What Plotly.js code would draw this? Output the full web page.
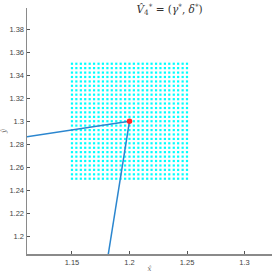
<!DOCTYPE html>
<html>
<head>
<meta charset="utf-8">
<script src="https://cdn.plot.ly/plotly-3.0.1.min.js"></script>
<style>html,body{margin:0;padding:0;background:#fff;}#chart{width:272px;height:273px;}</style>
</head>
<body>
<div id="chart"></div>
<script>
// grid values along x and along y
const gridX = [1.1500,1.1538,1.1577,1.1615,1.1654,1.1692,1.1731,1.1769,1.1808,1.1846,1.1885,1.1923,1.1962,1.2000,1.2038,1.2077,1.2115,1.2154,1.2192,1.2231,1.2269,1.2308,1.2346,1.2385,1.2423,1.2462,1.2500];
const gridY = [1.2500,1.2538,1.2577,1.2615,1.2654,1.2692,1.2731,1.2769,1.2808,1.2846,1.2885,1.2923,1.2962,1.3000,1.3038,1.3077,1.3115,1.3154,1.3192,1.3231,1.3269,1.3308,1.3346,1.3385,1.3423,1.3462,1.3500];
// line 1 (from left)
const line1X = [1.0, 1.2];
const line1Y = [1.2699, 1.3];
// line 2 (from below)
const line2X = [1.1522, 1.2];
const line2Y = [1.0, 1.3];
// optimum point
const ptX = [1.2];
const ptY = [1.3];
// ticks
const xTickVals = [1.15, 1.2, 1.25, 1.3];
const xTickText = ['1.15', '1.2', '1.25', '1.3'];
const yTickVals = [1.2, 1.22, 1.24, 1.26, 1.28, 1.3, 1.32, 1.34, 1.36, 1.38];
const yTickText = ['1.2', '1.22', '1.24', '1.26', '1.28', '1.3', '1.32', '1.34', '1.36', '1.38'];

const gx = [], gy = [];
for (const yv of gridY) for (const xv of gridX) { gx.push(xv); gy.push(yv); }

const data = [
  {x: gx, y: gy, type: 'scatter', mode: 'markers', marker: {color: '#00ffff', size: 2.2, symbol: 'square'}, hoverinfo: 'skip'},
  {x: line1X, y: line1Y, type: 'scatter', mode: 'lines', line: {color: '#2b86cf', width: 1.5}},
  {x: line2X, y: line2Y, type: 'scatter', mode: 'lines', line: {color: '#2b86cf', width: 1.5}},
  {x: ptX, y: ptY, type: 'scatter', mode: 'markers', marker: {color: '#ff2a2a', size: 5.5}}
];

const axisFont = {family: 'Liberation Sans, Arial, sans-serif', size: 7.5, color: '#444'};
const layout = {
  width: 272, height: 273,
  margin: {l: 27, r: 0, t: 8, b: 19, pad: 0},
  showlegend: false,
  paper_bgcolor: '#fff', plot_bgcolor: '#fff',
  title: {
    text: '<i>V̂</i><sub>4</sub><sup>*</sup> = (<i>γ</i><sup>*</sup>, <i>δ</i><sup>*</sup>)',
    font: {family: 'DejaVu Serif, Liberation Serif, serif', size: 10.5, color: '#333'},
    x: 0.582, xref: 'paper', xanchor: 'center',
    y: 0.965, yref: 'container', yanchor: 'middle'
  },
  xaxis: {
    range: [1.1109, 1.3239], showgrid: false, zeroline: false,
    showline: true, linecolor: '#8a8a8a', linewidth: 1.5, mirror: false,
    ticks: 'inside', ticklen: 3, tickwidth: 1, tickcolor: '#555',
    tickvals: xTickVals, ticktext: xTickText, tickfont: axisFont,
    title: {text: '<i>x̂</i>', font: {family: 'DejaVu Serif, serif', size: 7, color: '#666'}, standoff: 2}
  },
  yaxis: {
    range: [1.1845, 1.3985], showgrid: false, zeroline: false,
    showline: true, linecolor: '#8a8a8a', linewidth: 1.5, mirror: false,
    ticks: 'inside', ticklen: 3, tickwidth: 1, tickcolor: '#555',
    tickvals: yTickVals, ticktext: yTickText, tickfont: axisFont,
    title: {text: '<i>ŷ</i>', font: {family: 'DejaVu Serif, serif', size: 7, color: '#666'}, standoff: 2}
  }
};

Plotly.newPlot('chart', data, layout, {staticPlot: true, displayModeBar: false});
</script>
</body>
</html>
